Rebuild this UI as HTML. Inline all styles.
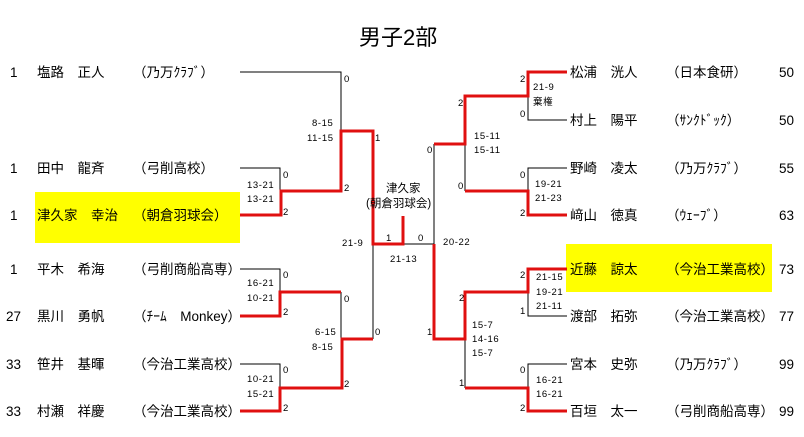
<!DOCTYPE html>
<html><head><meta charset="utf-8"><style>
html,body{margin:0;padding:0;background:#fff;}
svg{display:block;}
text{font-family:"Liberation Sans","Noto Sans CJK JP",sans-serif;fill:#000;}
.n{font-size:13.5px;}
.s{font-size:9.5px;letter-spacing:0.6px;}
.r{stroke:#e01010;stroke-width:3;fill:none;}
.b{stroke:#000;stroke-width:1;fill:none;}
</style></head><body>
<svg width="804" height="437" viewBox="0 0 804 437" xmlns="http://www.w3.org/2000/svg">
<rect x="35" y="192" width="205" height="51" fill="#ffff00"/>
<rect x="566" y="244" width="206" height="48" fill="#ffff00"/>
<text x="359" y="45" style="font-size:22px">男子2部</text>

<g class="n">
<text x="10" y="77">1</text><text x="37" y="77">塩路　正人</text><text x="133" y="77">（乃万ｸﾗﾌﾞ）</text>
<text x="10" y="173">1</text><text x="37" y="173">田中　龍斉</text><text x="133" y="173">（弓削高校）</text>
<text x="10" y="220">1</text><text x="37" y="220">津久家　幸治</text><text x="133" y="220">（朝倉羽球会）</text>
<text x="10" y="274">1</text><text x="37" y="274">平木　希海</text><text x="133" y="274">（弓削商船高専）</text>
<text x="6" y="321">27</text><text x="37" y="321">黒川　勇帆</text><text x="133" y="321">（ﾁｰﾑ　Monkey）</text>
<text x="6" y="369">33</text><text x="37" y="369">笹井　基暉</text><text x="133" y="369">（今治工業高校）</text>
<text x="6" y="416">33</text><text x="37" y="416">村瀬　祥慶</text><text x="133" y="416">（今治工業高校）</text>
<text x="570" y="77">松浦　洸人</text><text x="666" y="77">（日本食研）</text><text x="779" y="77">50</text>
<text x="570" y="125">村上　陽平</text><text x="666" y="125">（ｻﾝｸﾄﾞｯｸ）</text><text x="779" y="125">50</text>
<text x="570" y="173">野崎　凌太</text><text x="666" y="173">（乃万ｸﾗﾌﾞ）</text><text x="779" y="173">55</text>
<text x="570" y="220">﨑山　徳真</text><text x="666" y="220">（ｳｪｰﾌﾞ）</text><text x="779" y="220">63</text>
<text x="570" y="274">近藤　諒太</text><text x="666" y="274">（今治工業高校）</text><text x="779" y="274">73</text>
<text x="570" y="321">渡部　拓弥</text><text x="666" y="321">（今治工業高校）</text><text x="779" y="321">77</text>
<text x="570" y="369">宮本　史弥</text><text x="666" y="369">（乃万ｸﾗﾌﾞ）</text><text x="779" y="369">99</text>
<text x="570" y="416">百垣　太一</text><text x="666" y="416">（弓削商船高専）</text><text x="779" y="416">99</text>
</g>

<g class="b">
<path d="M240 72H341V131"/>
<path d="M240 168H280V191"/>
<path d="M240 269H280V292"/>
<path d="M341 292V339"/>
<path d="M240 364H280V388"/>
<path d="M373 339V244"/>
<path d="M403 244H434V144"/>
<path d="M528 96V120H567"/>
<path d="M465 144V191"/>
<path d="M528 192V168H567"/>
<path d="M528 292V316H567"/>
<path d="M465 339V388"/>
<path d="M528 388V364H567"/>
</g>
<g class="r">
<path d="M240 215H281V191H341V131H373V244H403V216"/>
<path d="M240 316H280V292H341"/>
<path d="M240 411H280V388H342V339H373"/>
<path d="M434 244V339H465V292H528V269H567"/>
<path d="M465 388H528V411H567"/>
<path d="M434 144H465V96H528V72H567"/>
<path d="M465 191H528V215H567"/>
</g>

<g class="s">
<text x="344" y="82">0</text>
<text x="312" y="126">8-15</text><text x="307" y="141">11-15</text>
<text x="375" y="141">1</text>
<text x="283" y="178">0</text>
<text x="247" y="188">13-21</text><text x="247" y="202">13-21</text>
<text x="344" y="191">2</text><text x="283" y="215">2</text>
<text x="342" y="246">21-9</text>
<text x="386" y="241">1</text><text x="418" y="241">0</text>
<text x="390" y="262">21-13</text>
<text x="443" y="245">20-22</text>
<text x="283" y="278">0</text>
<text x="247" y="286">16-21</text><text x="247" y="301">10-21</text>
<text x="344" y="302">0</text><text x="283" y="315">2</text>
<text x="315" y="335">6-15</text><text x="312" y="350">8-15</text>
<text x="375" y="335">0</text>
<text x="283" y="373">0</text>
<text x="247" y="382">10-21</text><text x="247" y="397">15-21</text>
<text x="344" y="387">2</text><text x="283" y="411">2</text>

<text x="520" y="82">2</text><text x="533" y="90">21-9</text><text x="533" y="105">棄権</text>
<text x="520" y="117">0</text>
<text x="458" y="106">2</text>
<text x="474" y="139">15-11</text><text x="474" y="153">15-11</text>
<text x="427" y="153">0</text>
<text x="458" y="189">0</text>
<text x="520" y="178">0</text>
<text x="535" y="187">19-21</text><text x="535" y="201">21-23</text>
<text x="520" y="216">2</text>
<text x="520" y="278">2</text>
<text x="536" y="280">21-15</text><text x="536" y="295">19-21</text><text x="536" y="309">21-11</text>
<text x="520" y="314">1</text>
<text x="459" y="301">2</text>
<text x="427" y="335">1</text>
<text x="472" y="328">15-7</text><text x="472" y="342">14-16</text><text x="472" y="356">15-7</text>
<text x="459" y="386">1</text>
<text x="520" y="373">0</text>
<text x="536" y="383">16-21</text><text x="536" y="397">16-21</text>
<text x="520" y="411">2</text>
</g>
<text x="386" y="192" style="font-size:11.5px">津久家</text>
<text x="366" y="207" style="font-size:11.5px">(朝倉羽球会)</text>
</svg>
</body></html>
